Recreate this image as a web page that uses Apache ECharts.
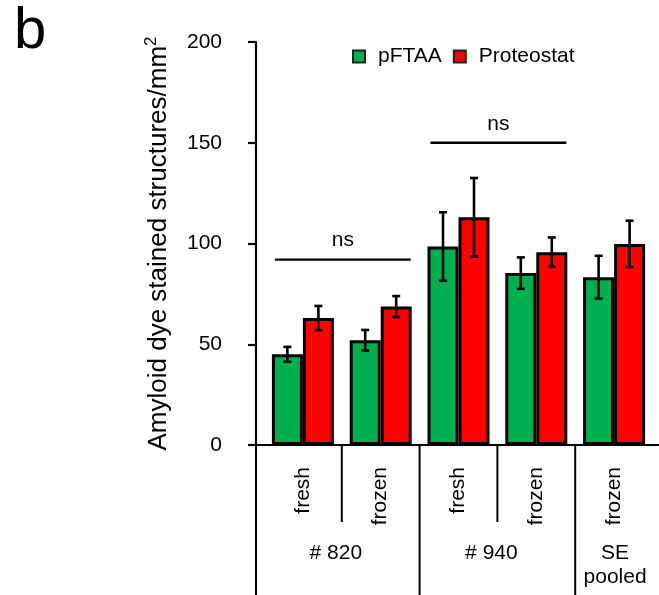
<!DOCTYPE html>
<html>
<head>
<meta charset="utf-8">
<script src="https://cdn.jsdelivr.net/npm/echarts@6/dist/echarts.min.js"></script>
<style>
  html, body { margin: 0; padding: 0; background: #fff; }
  #chart { width: 659px; height: 595px; }
</style>
</head>
<body>
<div id="chart"></div>
<script>
// data
const categories = ['fresh', 'frozen', 'fresh', 'frozen', 'frozen'];
const groupNames = ['# 820', '# 940', 'SE\npooled'];
const groupStart = [0, 2, 4];
const groupEnd = [1, 3, 4];

const pftaa = [45, 52, 98.5, 85.3, 83.3];
const pftaaErr = [3.7, 5.1, 17, 7.8, 10.6];
const proteostat = [63, 68.7, 113, 95.7, 99.8];
const proteostatErr = [6, 5.2, 19.5, 7.3, 11.5];

const sigFrom = [0, 2];
const sigTo = [1, 3];
const sigLevel = [92, 150];
const sigText = ['ns', 'ns'];

const yMin = 0, yMax = 200, yStep = 50;

// layout
const FONT = 'Arial, "Liberation Sans", sans-serif';
const GRID_LEFT = 264, GRID_RIGHT = 6, GRID_TOP = 42, GRID_BOTTOM = 150;
const AXIS_SHIFT = 8;
const BAR_W = 31;

const myChart = echarts.init(document.getElementById('chart'));

function errRender(shift) {
  return function (params, api) {
    const lo = api.coord([api.value(0), api.value(1)]);
    const hi = api.coord([api.value(0), api.value(2)]);
    const x = lo[0] + shift;
    const cap = 4;
    const st = { stroke: '#000', lineWidth: 2.6 };
    return {
      type: 'group',
      children: [
        { type: 'line', shape: { x1: x, y1: lo[1], x2: x, y2: hi[1] }, style: st },
        { type: 'line', shape: { x1: x - cap, y1: hi[1], x2: x + cap, y2: hi[1] }, style: st },
        { type: 'line', shape: { x1: x - cap, y1: lo[1], x2: x + cap, y2: lo[1] }, style: st }
      ]
    };
  };
}

// "ns" brackets
function sigRender(params, api) {
  const a = api.coord([api.value(0), api.value(2)]);
  const b = api.coord([api.value(1), api.value(2)]);
  const x1 = a[0] - 28, x2 = b[0] + 30;
  return {
    type: 'group',
    children: [
      { type: 'line', shape: { x1: x1, y1: a[1], x2: x2, y2: a[1] }, style: { stroke: '#000', lineWidth: 2.4 } },
      { type: 'text', x: (x1 + x2) / 2, y: a[1] - 19,
        style: { text: sigText[params.dataIndex], fill: '#000', font: '21px ' + FONT, align: 'center', verticalAlign: 'middle' } }
    ]
  };
}

// group labels and separators below the x axis
function groupRender(params, api) {
  const s = api.value(0), e = api.value(1);
  const a = api.coord([s, 0]);
  const b = api.coord([e, 0]);
  const band = api.size([1, 0])[0];
  const y0 = a[1];
  const bottom = api.getHeight();
  const st = { stroke: '#000', lineWidth: 2 };
  const children = [];
  let left = a[0] - band / 2;
  if (s === 0) left -= AXIS_SHIFT;
  children.push({ type: 'line', shape: { x1: left, y1: y0, x2: left, y2: bottom }, style: st });
  for (let k = s + 1; k <= e; k++) {
    const xk = api.coord([k, 0])[0] - band / 2;
    children.push({ type: 'line', shape: { x1: xk, y1: y0, x2: xk, y2: y0 + 77 }, style: st });
  }
  const mid = (a[0] + b[0]) / 2 - (e > s ? 6 : -1);
  children.push({
    type: 'text', x: mid, y: y0 + 96,
    style: { text: groupNames[params.dataIndex], fill: '#000', font: '21px ' + FONT,
      align: 'center', verticalAlign: 'top', lineHeight: 24 }
  });
  return { type: 'group', children: children };
}

const option = {
  animation: false,
  textStyle: { fontFamily: FONT },
  title: {
    text: 'b', left: 9, top: -2,
    textStyle: { fontSize: 58, fontWeight: 'normal', color: '#000', fontFamily: FONT }
  },
  legend: {
    data: ['pFTAA', 'Proteostat'],
    left: 347, top: 41,
    icon: 'path://M0,0H10V10H0Z',
    itemWidth: 28, itemHeight: 12, itemGap: 11,
    itemStyle: { borderWidth: 2, borderColor: '#222' },
    textStyle: { fontSize: 21, color: '#000', fontFamily: FONT }
  },
  grid: { left: GRID_LEFT, right: GRID_RIGHT, top: GRID_TOP, bottom: GRID_BOTTOM, containLabel: false },
  xAxis: {
    type: 'category',
    data: categories,
    boundaryGap: true,
    axisLine: { lineStyle: { color: '#000', width: 2 } },
    axisTick: { show: false },
    axisLabel: { rotate: 90, margin: 22, fontSize: 21, color: '#000', fontFamily: FONT }
  },
  yAxis: {
    type: 'value',
    min: yMin, max: yMax, interval: yStep,
    offset: AXIS_SHIFT,
    name: '{a|Amyloid dye stained structures/mm}{sup|2}',
    nameLocation: 'middle',
    nameGap: 84,
    nameTextStyle: {
      color: '#000', fontFamily: FONT,
      rich: {
        a: { fontSize: 26, color: '#000', fontFamily: FONT, verticalAlign: 'bottom' },
        sup: { fontSize: 17, color: '#000', fontFamily: FONT, verticalAlign: 'bottom', padding: [0, 0, 12, 0] }
      }
    },
    axisLine: { show: true, lineStyle: { color: '#000', width: 2.2 } },
    axisTick: { show: true, length: 8, lineStyle: { color: '#000', width: 2.2 } },
    axisLabel: { margin: 34, fontSize: 21, color: '#000', fontFamily: FONT },
    splitLine: { show: false }
  },
  graphic: [{
    type: 'line',
    shape: { x1: GRID_LEFT - AXIS_SHIFT, y1: 595 - GRID_BOTTOM, x2: 659, y2: 595 - GRID_BOTTOM },
    style: { stroke: '#000', lineWidth: 2.2 },
    z: 10
  }],
  series: [
    {
      name: 'pFTAA', type: 'bar', data: pftaa,
      barWidth: BAR_W, barGap: '0%',
      itemStyle: { color: '#00b050', borderColor: '#000', borderWidth: 3 }
    },
    {
      name: 'Proteostat', type: 'bar', data: proteostat,
      barWidth: BAR_W, barGap: '0%',
      itemStyle: { color: '#ff0000', borderColor: '#000', borderWidth: 3 }
    },
    {
      type: 'custom', z: 5, silent: true,
      renderItem: errRender(-BAR_W / 2),
      encode: { x: 0, y: [1, 2] },
      data: pftaa.map((v, i) => [i, v - pftaaErr[i], v + pftaaErr[i]])
    },
    {
      type: 'custom', z: 5, silent: true,
      renderItem: errRender(BAR_W / 2),
      encode: { x: 0, y: [1, 2] },
      data: proteostat.map((v, i) => [i, v - proteostatErr[i], v + proteostatErr[i]])
    },
    {
      type: 'custom', z: 5, silent: true,
      renderItem: sigRender,
      encode: { x: [0, 1], y: 2 },
      data: sigFrom.map((f, i) => [f, sigTo[i], sigLevel[i]])
    },
    {
      type: 'custom', z: 5, silent: true, clip: false,
      renderItem: groupRender,
      encode: { x: [0, 1] },
      data: groupStart.map((s, i) => [s, groupEnd[i]])
    }
  ]
};

myChart.setOption(option);
</script>
</body>
</html>
